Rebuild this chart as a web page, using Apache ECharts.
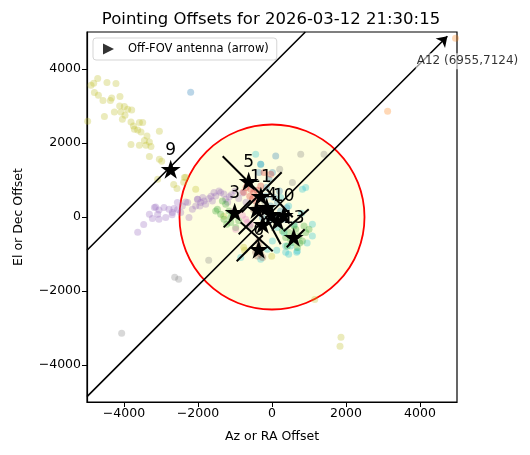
<!DOCTYPE html>
<html><head><meta charset="utf-8">
<script src="https://cdn.jsdelivr.net/npm/echarts@6/dist/echarts.min.js"></script>
<style>html,body{margin:0;padding:0;background:#fff}#c{width:530px;height:455px}</style>
</head><body><div id="c"></div>
<script>
const axisTicks = [-4000, -2000, 0, 2000, 4000];
const fovRadius = 2500;
const olive = [[-4892,3560],[-4819,3614],[-4711,3741],[-4460,3633],[-4217,3606],[-4800,3363],[-4692,3290],[-4568,3146],[-4368,3146],[-4333,3217],[-4109,3254],[-4117,3000],[-3990,2984],[-4260,2838],[-4082,2838],[-3900,2911],[-3792,2892],[-3973,2749],[-4044,2641],[-4530,2714],[-3811,2568],[-3746,2460],[-3584,2552],[-3495,2552],[-3719,2371],[-3630,2352],[-3541,2298],[-3379,2189],[-3449,2065],[-3314,2027],[-3044,2316],[-3811,1957],[-3584,1938],[-3406,1938],[-3271,1903],[-3314,1633],[-3044,1560],[-2981,1506],[-2657,876],[-2568,768],[-2368,1065],[-4982,2587],[-3090,1019],[-2333,1073],[-2387,938],[-2062,749],[-1306,19],[-765,-819],[-8,-1063],[-740,-900],[1156,-2230],[1865,-3252],[1838,-3495]];
const purple = [[-3144,270],[-3054,189],[-2919,254],[-2784,208],[-2649,227],[-2557,389],[-2422,297],[-2333,405],[-2152,208],[-2062,297],[-1927,389],[-1838,432],[-1703,497],[-1522,568],[-1433,703],[-1387,660],[-1568,660],[-1611,432],[-1792,343],[-2244,-16],[-2873,-16],[-3054,-62],[-3233,-43],[-2692,119],[-2468,119],[-2016,478],[-1252,478],[-3630,-414],[-3468,-200],[-3179,254],[-3314,73],[-3090,73],[-2279,389],[-2008,478],[-1873,524],[-1100,600],[-1000,700],[-900,500],[-800,650],[-1200,400],[-700,400],[-1150,550],[-1300,620],[-1650,560],[-1950,300],[-2550,200],[-2700,60]];
const gray = [[-2630,-1630],[-2522,-1684],[-4063,-3144],[-1711,-1170],[776,1695],[1406,1695],[551,930],[208,1289],[-200,400],[-450,150],[-600,-250]];
const blue = [[-2198,3371],[-170,568],[54,524],[-35,297],[-170,162],[146,389],[235,162],[-81,-108],[100,27],[324,-62],[-259,-16],[100,1649],[-305,1425],[11,1200],[-351,1200],[-81,1019],[-150,800],[200,700],[400,250]];
const cyan = [[-441,1695],[-305,1425],[822,749],[911,795],[235,524],[146,-287],[324,-422],[505,-784],[686,-919],[370,-784],[11,-649],[-124,-873],[-305,-1143],[-846,-1097],[1092,-513],[1092,-197],[127,-900],[370,-954],[451,-1008],[667,-954],[600,-200],[800,100],[450,300],[950,-700]];
const green = [[-1252,343],[-1387,73],[-1162,162],[-1297,-62],[-1476,208],[-1116,-16],[-1224,-197],[-1116,-151],[-981,-287],[-1522,162],[-1341,432],[-1050,50],[-900,-100],[460,-422],[641,-332],[730,-513],[822,-649],[551,-692],[370,-557],[911,-422],[416,-784],[686,-827],[865,-243],[1000,-332],[595,-243],[281,-378],[750,-700],[500,-600]];
const red = [[-665,930],[-495,668],[-576,749],[-765,668],[-305,838],[-441,432],[-214,1200],[-35,1154],[-600,560],[-700,800],[-400,720],[-520,500]];
const pink = [[-711,-62],[-981,-332],[-576,-197],[-665,-151],[-1035,154],[-800,50]];
const brown = [[-360,-649],[-305,-1008],[-395,-1054],[-251,-1097],[-441,-954],[-400,300],[-300,100],[-500,200],[-350,-800]];
const orange = [[3125,2855],[4960,4830]];

const antIds = ['9','5','3','11','4','10','13','6','0','2','7','8'];
const antX = [-2738,-630,-1008,-300,-8,316,587,-360,-251,-414,154,-143];
const antY = [1289,965,127,560,73,46,-549,-873,-197,208,-116,262];
const antLabelShown = [true,true,true,true,true,true,true,true,false,false,false,false];

const crossSegments = [
  [[-1333,1641],[-251,560]],
  [[262,1208],[-819,127]],
  [[-1306,-281],[-576,451]],
  [[-900,-465],[-89,343]],
  [[-846,-143],[19,-927]],
  [[-143,749],[560,-8]],
  [[316,-387],[992,208]],
  [[397,-819],[884,-332]],
  [[-954,-1197],[-251,-495]],
  [[-170,19],[235,-738]]
];
const diagLine = [[-5000,-900],[900,5000]];
const arrowLine = [[-5000,-4855],[4740,4885]];
const offName = 'A12';
const offPos = [6955, 7124];
const offTextAt = [3884, 4209];

const FONT = "'DejaVu Sans', sans-serif";
const tab = {blue:'#1f77b4',orange:'#ff7f0e',green:'#2ca02c',red:'#d62728',purple:'#9467bd',brown:'#8c564b',pink:'#e377c2',gray:'#7f7f7f',olive:'#bcbd22',cyan:'#17becf'};
function cloud(name, data, color){
  return {type:'scatter', name:name, data:data, symbolSize:7, z:3,
    itemStyle:{color:color, opacity:0.3}, silent:true};
}
const starPath = 'path://M0,-1L0.2245,-0.309L0.951,-0.309L0.363,0.118L0.588,0.809L0,0.382L-0.588,0.809L-0.363,0.118L-0.951,-0.309L-0.2245,-0.309Z';
const fmt = v => String(v).replace('-', '\u2212');

const chart = echarts.init(document.getElementById('c'), null, {renderer:'canvas'});
chart.setOption({
  animation:false,
  backgroundColor:'#fff',
  title:{text:'Pointing Offsets for 2026-03-12 21:30:15', left:266, textAlign:'center', top:6,
    textStyle:{fontFamily:FONT, fontSize:16.5, fontWeight:'normal', color:'#000'}},
  grid:{left:87, top:32, width:370, height:370, show:true, borderColor:'#000', borderWidth:1.2, backgroundColor:'transparent'},
  legend:{left:93, top:38, orient:'horizontal', padding:[5,8,5,10], backgroundColor:'#fff',
    borderColor:'#d5d5d5', borderWidth:1, borderRadius:3, itemWidth:11, itemHeight:11, itemGap:4,
    textStyle:{fontFamily:FONT, fontSize:11.5, color:'#000', padding:[0,0,0,9]},
    data:[{name:'Off-FOV antenna (arrow)', icon:'path://M0,0L10,5L0,10Z'}]},
  xAxis:{type:'value', min:-5000, max:5000, name:'Az or RA Offset', nameLocation:'middle', nameGap:28,
    nameTextStyle:{fontFamily:FONT, fontSize:12.5, color:'#000'},
    splitLine:{show:false},
    axisLine:{show:true, onZero:false, lineStyle:{color:'#000', width:1.2}},
    axisTick:{show:true, inside:false, length:5, lineStyle:{color:'#000'}, customValues:axisTicks},
    axisLabel:{fontFamily:FONT, fontSize:12.5, color:'#000', margin:5, formatter:fmt, customValues:axisTicks}},
  yAxis:{type:'value', min:-5000, max:5000, name:'El or Dec Offset', nameLocation:'middle', nameGap:62, nameRotate:90,
    nameTextStyle:{fontFamily:FONT, fontSize:12.5, color:'#000'},
    splitLine:{show:false},
    axisLine:{show:true, onZero:false, lineStyle:{color:'#000', width:1.2}},
    axisTick:{show:true, inside:false, length:5, lineStyle:{color:'#000'}, customValues:axisTicks},
    axisLabel:{fontFamily:FONT, fontSize:12.5, color:'#000', margin:6, formatter:fmt, customValues:axisTicks}},
  series:[
    {type:'custom', name:'fov', z:1, silent:true, data:[[0,0,fovRadius]],
      renderItem:function(params, api){
        const c = api.coord([api.value(0), api.value(1)]);
        const s = api.size([api.value(2), api.value(2)]);
        return {type:'circle', shape:{cx:c[0], cy:c[1], r:s[0]},
          style:{fill:'#fefee0', stroke:'#ff0000', lineWidth:1.8}};
      }},
    cloud('olive', olive, tab.olive),
    cloud('purple', purple, tab.purple),
    cloud('gray', gray, tab.gray),
    cloud('blue', blue, tab.blue),
    cloud('cyan', cyan, tab.cyan),
    cloud('green', green, tab.green),
    cloud('red', red, tab.red),
    cloud('pink', pink, tab.pink),
    cloud('brown', brown, tab.brown),
    cloud('orange', orange, tab.orange),
    {type:'lines', coordinateSystem:'cartesian2d', z:4, silent:true,
      lineStyle:{color:'#000', width:1.6, opacity:1}, symbol:['none','none'],
      data:[{coords:diagLine}]},
    {type:'lines', coordinateSystem:'cartesian2d', z:4, silent:true,
      lineStyle:{color:'#000', width:1.6, opacity:1}, symbol:['none','arrow'], symbolSize:10,
      data:[{coords:arrowLine}]},
    {type:'lines', coordinateSystem:'cartesian2d', z:5, silent:true,
      lineStyle:{color:'#000', width:2, opacity:1}, symbol:['none','none'],
      data:crossSegments.map(s => ({coords:s}))},
    {type:'scatter', name:'antennas', z:6, silent:true, symbol:starPath, symbolSize:[20,19],
      itemStyle:{color:'#000', opacity:1},
      label:{show:true, position:'top', distance:1, fontFamily:FONT, fontSize:17, color:'#000',
        formatter:p => p.data.id},
      data:antX.map((x,i)=>({value:[x, antY[i]], id:antIds[i], label:{show:antLabelShown[i]}}))},
    {type:'scatter', name:'offtext', z:7, silent:true, symbolSize:0, clip:false,
      label:{show:true, position:'right', distance:0, fontFamily:FONT, fontSize:12, color:'#000',
        backgroundColor:'rgba(255,255,255,0.75)', padding:[2,1],
        formatter:()=> offName + ' (' + offPos[0] + ',' + offPos[1] + ')'},
      data:[offTextAt]},
    {type:'scatter', name:'Off-FOV antenna (arrow)', data:[], itemStyle:{color:'#000'}}
  ]
});
</script></body></html>
